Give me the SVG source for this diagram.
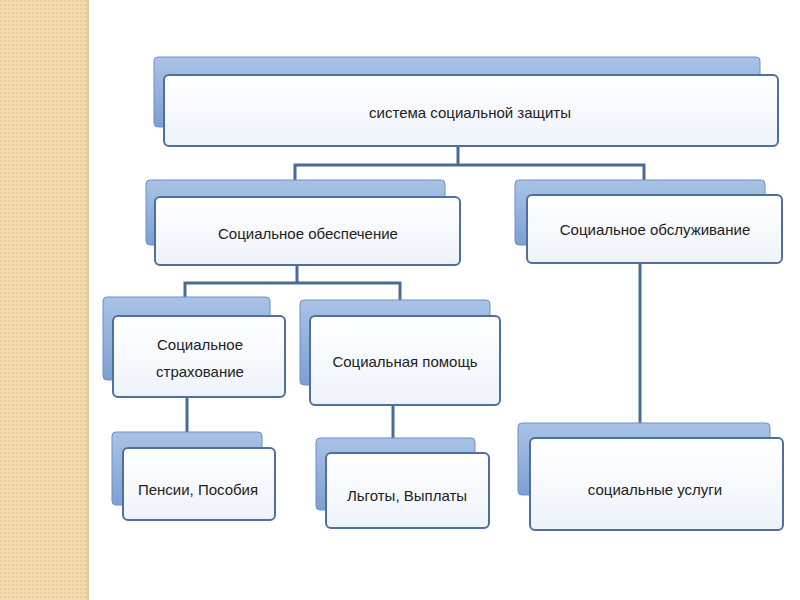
<svg xmlns="http://www.w3.org/2000/svg" width="800" height="600" viewBox="0 0 800 600">
<defs>
<linearGradient id="tab" x1="0" y1="0" x2="0" y2="1"><stop offset="0" stop-color="#a9c3e6"/><stop offset="1" stop-color="#7d9fd3"/></linearGradient>
<linearGradient id="face" x1="0" y1="0" x2="0" y2="1"><stop offset="0" stop-color="#ffffff"/><stop offset="1" stop-color="#eef3fb"/></linearGradient>
<pattern id="dots" width="4" height="4" patternUnits="userSpaceOnUse"><rect width="4" height="4" fill="#f1dcb0"/><rect width="2" height="2" fill="#e9cf9c"/></pattern>
</defs>
<style>
.tab{fill:url(#tab);stroke:#6f8fc4;stroke-width:1}
.face{fill:url(#face);stroke:#4f6f9f;stroke-width:2}
.t{font-family:"Liberation Sans",Arial,sans-serif;font-size:15px;fill:#222;text-anchor:middle}
.c{fill:none;stroke:#4a6a96;stroke-width:3}
</style>
<rect width="800" height="600" fill="#fff"/>
<rect x="0" y="0" width="86" height="600" fill="url(#dots)"/>
<rect x="86" y="0" width="3" height="600" fill="#e6cf9e"/>
<g id="connectors">
<path class="c" d="M458 146V165M295 182V165H644V182"/>
<path class="c" d="M297 265V283M185 300V283H400V300"/>
<path class="c" d="M187 397V432"/>
<path class="c" d="M393 405V438"/>
<path class="c" d="M640 263V423"/>
</g>
<g id="n-root"><rect class="tab" x="154" y="57" width="606" height="70" rx="4"/><rect class="face" x="164" y="75" width="614" height="71" rx="5"/><text class="t" x="470" y="118">система социальной защиты</text></g>
<g id="n-obesp"><rect class="tab" x="146" y="180" width="299" height="65" rx="4"/><rect class="face" x="155" y="197" width="305" height="68" rx="5"/><text class="t" x="308" y="239">Социальное обеспечение</text></g>
<g id="n-obsl"><rect class="tab" x="515" y="180" width="250" height="65" rx="4"/><rect class="face" x="527" y="195" width="255" height="68" rx="5"/><text class="t" x="655" y="235">Социальное обслуживание</text></g>
<g id="n-strakh"><rect class="tab" x="103" y="297" width="167" height="83" rx="4"/><rect class="face" x="113" y="316" width="172" height="81" rx="5"/><text class="t" x="200" y="350">Социальное</text><text class="t" x="200" y="377">страхование</text></g>
<g id="n-pomosh"><rect class="tab" x="300" y="300" width="190" height="85" rx="4"/><rect class="face" x="310" y="316" width="190" height="89" rx="5"/><text class="t" x="405" y="367">Социальная помощь</text></g>
<g id="n-pensii"><rect class="tab" x="112" y="432" width="150" height="73" rx="4"/><rect class="face" x="123" y="448" width="152" height="72" rx="5"/><text class="t" x="198" y="495">Пенсии, Пособия</text></g>
<g id="n-lgoty"><rect class="tab" x="316" y="438" width="159" height="72" rx="4"/><rect class="face" x="326" y="453" width="163" height="75" rx="5"/><text class="t" x="407" y="501">Льготы, Выплаты</text></g>
<g id="n-uslugi"><rect class="tab" x="518" y="423" width="252" height="72" rx="4"/><rect class="face" x="530" y="438" width="253" height="92" rx="5"/><text class="t" x="655" y="495">социальные услуги</text></g>
</svg>
